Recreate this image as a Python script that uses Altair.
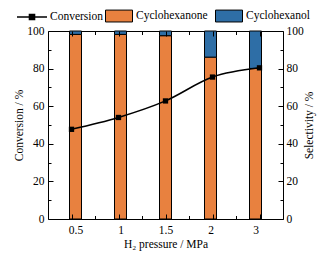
import altair as alt
import pandas as pd

pressures = ["0.5", "1", "1.5", "2", "3"]
conversion = [47.7, 54.0, 62.8, 75.5, 80.4]
cyclohexanone = [98.2, 98.2, 97.5, 86.1, 80.1]
cyclohexanol = [1.8, 1.8, 2.5, 13.9, 19.9]
components = ["Cyclohexanone", "Cyclohexanol"]
colors = ["#E8813F", "#2E6EA6"]

idx = list(range(len(pressures)))
line_df = pd.DataFrame({"idx": idx, "pressure": pressures, "conversion": conversion, "name": "Conversion"})
bar_df = pd.DataFrame({
    "idx": idx * 2,
    "comp": [components[0]] * 5 + [components[1]] * 5,
    "order": [0] * 5 + [1] * 5,
    "value": cyclohexanone + cyclohexanol,
})

W, H = 235, 188
FONT = "Liberation Serif"
label_list = "[" + ",".join("'" + p + "'" for p in pressures) + "]"
x_vals = [i * 0.5 for i in range(0, 9)]
y_vals = list(range(0, 101, 10))
x_major = [float(i) for i in idx]
y_major = list(range(0, 101, 20))

x_scale = alt.Scale(domain=[-0.5, 4.5], nice=False, zero=False)
y_scale = alt.Scale(domain=[0, 100], nice=False)

x_tick = alt.ExprRef("datum.value % 1 == 0 ? 5 : 3.5")
y_tick = alt.ExprRef("datum.value % 20 == 0 ? 5 : 3")

def tick_axis(orient, vals, size):
    return alt.Axis(orient=orient, offset=-(H if orient in ("top", "bottom") else W),
                    values=vals, labels=False, domain=False, title=None,
                    tickSize=size, grid=False, zindex=2)

# x axes
x_bottom_labels = alt.Axis(orient="bottom", values=x_major, ticks=False, domain=False,
                           labelExpr=label_list + "[datum.value]", labelPadding=5,
                           title="H₂ pressure / MPa", titlePadding=3, labelOverlap=False)
x_bottom_ticks = tick_axis("top", x_vals, x_tick)
x_top_ticks = tick_axis("bottom", x_vals, x_tick)
# y axes
y_left_labels = alt.Axis(orient="left", values=y_major, ticks=False, domain=False,
                         labelPadding=4, title="Conversion / %", titlePadding=2, labelOverlap=False)
y_left_ticks = tick_axis("right", y_vals, y_tick)
y_right_labels = alt.Axis(orient="right", values=y_major, ticks=False, domain=False,
                          labelPadding=3, title="Selectivity / %", titleAngle=270,
                          titleBaseline="top", titlePadding=0, labelOverlap=False)
y_right_ticks = tick_axis("left", y_vals, y_tick)

bars = alt.Chart(bar_df).mark_bar(size=12, stroke="black", strokeWidth=1).encode(
    x=alt.X("idx:Q", scale=x_scale, axis=x_bottom_labels),
    y=alt.Y("value:Q", stack="zero", scale=y_scale, axis=y_right_labels),
    fill=alt.Fill("comp:N", scale=alt.Scale(domain=components, range=colors), legend=alt.Legend(
        title=None, orient="none", direction="horizontal", legendX=57, legendY=-29,
        symbolType="M-1,-0.44H1V0.44H-1Z", symbolSize=729, symbolStrokeColor="black",
        symbolStrokeWidth=1, labelFont=FONT, labelFontSize=11.5, labelColor="black",
        columnPadding=5, labelOffset=3, labelLimit=200)),
    order=alt.Order("order:Q"),
)

line = alt.Chart(line_df).mark_line(interpolate="monotone", strokeWidth=1.5).encode(
    x=alt.X("idx:Q", scale=x_scale, axis=x_top_ticks),
    y=alt.Y("conversion:Q", scale=y_scale, axis=y_left_labels),
    color=alt.Color("name:N", scale=alt.Scale(range=["black"]), legend=alt.Legend(
        title=None, orient="none", legendX=-32, legendY=-30,
        symbolType="M-1,0H1M-0.17,-0.17H0.17V0.17H-0.17Z", symbolSize=900,
        symbolFillColor="black", symbolStrokeWidth=1.5,
        labelFont=FONT, labelFontSize=11.5, labelColor="black", labelOffset=2)),
)

points = alt.Chart(line_df).mark_point(shape="square", filled=True, color="black", size=28, opacity=1).encode(
    x=alt.X("idx:Q", scale=x_scale, axis=x_bottom_ticks),
    y=alt.Y("conversion:Q", scale=y_scale, axis=y_left_ticks),
)

helper = alt.Chart(line_df).mark_point(opacity=0).encode(
    x=alt.X("idx:Q", scale=x_scale, axis=None),
    y=alt.Y("conversion:Q", scale=y_scale, axis=y_right_ticks),
)

chart = alt.layer(bars, line, points, helper).resolve_scale(
    x="independent", y="independent", fill="independent", color="independent"
).properties(
    width=W, height=H,
    background="white",
    autosize=alt.AutoSizeParams(type="none"),
    padding={"left": 48, "top": 31, "right": 51, "bottom": 36},
).configure_view(stroke="black", strokeWidth=1).configure_axis(
    grid=False, domainColor="black", tickColor="black", labelColor="black",
    titleColor="black", labelFont=FONT, titleFont=FONT, labelFontSize=11.5,
    titleFontSize=11.5, titleFontWeight="normal", tickWidth=1,
)

chart.save("out.html", embed_options={"renderer": "svg", "actions": False})
